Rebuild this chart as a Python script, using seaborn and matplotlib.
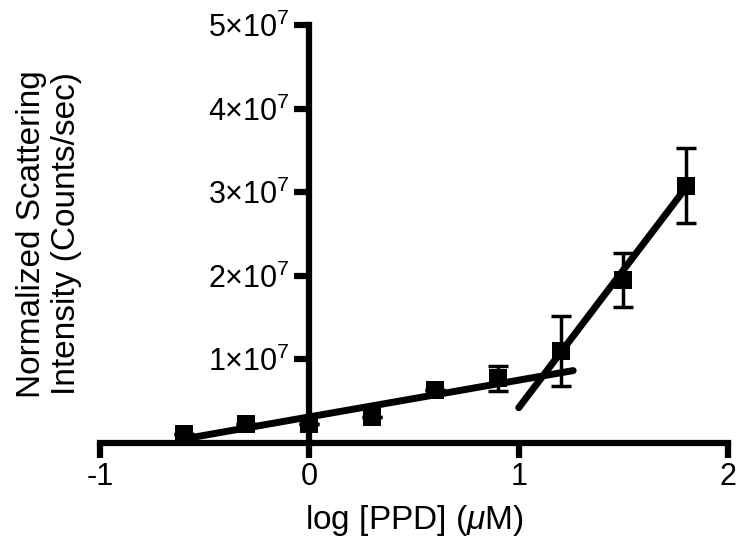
import numpy as np
import pandas as pd
import seaborn as sns
import matplotlib.pyplot as plt

# data
log_ppd = [-0.6, -0.3, 0.0, 0.3, 0.6, 0.9, 1.2, 1.5, 1.8]
intensity = [0.11e7, 0.22e7, 0.22e7, 0.31e7, 0.63e7, 0.77e7, 1.10e7, 1.95e7, 3.08e7]
intensity_err = [0.0, 0.0, 0.0, 0.0, 0.0, 0.15e7, 0.42e7, 0.32e7, 0.45e7]

# two linear fits (slope, intercept, x range)
fit_slope = [0.44e7, 3.30e7]
fit_intercept = [0.31e7, -2.88e7]
fit_xrange = [(-0.6, 1.26), (1.0, 1.8)]

xticks = [-1, 0, 1, 2]
yticks = [1e7, 2e7, 3e7, 4e7, 5e7]
ytick_labels = ['$1×10^{7}$', '$2×10^{7}$', '$3×10^{7}$', '$4×10^{7}$', '$5×10^{7}$']

sns.set_style('ticks')
plt.rcParams['font.family'] = ['Liberation Sans', 'DejaVu Sans']
plt.rcParams['mathtext.fontset'] = 'custom'
plt.rcParams['mathtext.rm'] = 'Liberation Sans'
plt.rcParams['mathtext.it'] = 'Liberation Sans:italic'
plt.rcParams['mathtext.default'] = 'regular'
for k in ['text.color', 'axes.labelcolor', 'xtick.color', 'ytick.color', 'axes.edgecolor']:
    plt.rcParams[k] = 'black'

fig, ax = plt.subplots(figsize=(7.4, 5.48), dpi=100)
fig.subplots_adjust(left=0.135, right=0.984, bottom=0.192, top=0.954)

df = pd.DataFrame({'x': log_ppd, 'y': intensity, 'err': intensity_err})

# fit lines
for m, b, (x0, x1) in zip(fit_slope, fit_intercept, fit_xrange):
    xs = np.array([x0, x1])
    sns.lineplot(x=xs, y=m * xs + b, ax=ax, color='black', linewidth=5,
                 solid_capstyle='round', clip_on=False)

# error bars and markers
ax.errorbar(df['x'], df['y'], yerr=df['err'], fmt='none', ecolor='black',
            elinewidth=2.5, capsize=7, capthick=2.5, clip_on=False)
sns.scatterplot(data=df, x='x', y='y', ax=ax, marker='s', s=150,
                color='black', linewidth=0, clip_on=False, zorder=5)

ax.set_xlim(-1, 2)
ax.set_ylim(0, 5e7)
ax.set_xticks(xticks)
ax.set_xticklabels([str(t) for t in xticks])
ax.set_yticks(yticks)
ax.set_yticklabels(ytick_labels)

sns.despine(ax=ax)
ax.spines['left'].set_position(('data', 0))
for s in ['left', 'bottom']:
    ax.spines[s].set_linewidth(4.5)
    ax.spines[s].set_color('black')
ax.tick_params(axis='both', length=11, width=4.5, labelsize=22, pad=3,
               color='black', labelcolor='black')

ax.set_xlabel('log [PPD] ($\\it{μ}$M)', fontsize=24, labelpad=8, color='black')
ax.set_ylabel('Normalized Scattering\nIntensity (Counts/sec)', fontsize=24,
              multialignment='center', color='black')
ax.yaxis.set_label_coords(-0.081, 0.5)
ax.yaxis.label.set_va('center')

plt.savefig('out.png', dpi=100)
